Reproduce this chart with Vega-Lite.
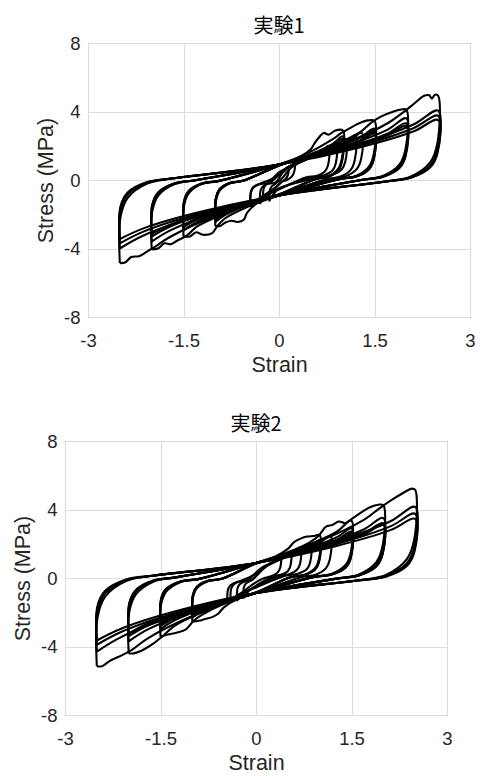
{
"$schema": "https://vega.github.io/schema/vega-lite/v6.json",
"background": "white",
"padding": {"left": 11, "top": 16, "right": 5, "bottom": 5},
"config": {
  "view": {"stroke": "#4d4d4d", "strokeWidth": 1},
  "font": "Liberation Sans",
  "axis": {"domain": false, "ticks": false, "grid": true, "gridColor": "#dcdcdc", "gridWidth": 1, "labelFlush": false, "labelOverlap": false, "labelFont": "Liberation Sans", "labelFontSize": 18.5, "labelColor": "#262626", "titleFont": "Liberation Sans", "titleFontSize": 21.5, "titleFontWeight": "normal", "titleColor": "#262626"},
  "axisX": {"labelPadding": 14, "titlePadding": 5},
  "axisY": {"labelPadding": 8, "titlePadding": 6},
  "title": {"font": "Noto Sans CJK JP", "fontSize": 20, "fontWeight": "normal", "color": "#000000", "offset": -3, "frame": "group", "anchor": "middle"}
},
"datasets": {
"t": [
{"k":"a1","x":-2.5,"y":-4.85},{"k":"a1","x":-2.49,"y":-2.18},{"k":"a1","x":-2.377,"y":-1.04},{"k":"a1","x":-2.07,"y":-0.21},{"k":"a1","x":-1.65,"y":0.1},{"k":"a1","x":0,"y":0.9},{"k":"a1","x":1.0,"y":2.1},{"k":"a1","x":1.7,"y":3.3},{"k":"a1","x":1.95,"y":3.95},{"k":"a1","x":2.12,"y":4.45},{"k":"a1","x":2.28,"y":4.92},{"k":"a1","x":2.36,"y":4.95},{"k":"a1","x":2.4,"y":4.75},{"k":"a1","x":2.45,"y":4.98},{"k":"a1","x":2.5,"y":4.92},{"k":"a1","x":2.49,"y":2.2},{"k":"a1","x":2.377,"y":1.05},{"k":"a1","x":2.07,"y":0.21},{"k":"a1","x":1.65,"y":-0.1},{"k":"a1","x":0,"y":-0.9},{"k":"a1","x":-1.0,"y":-2.1},{"k":"a1","x":-1.7,"y":-3.3},{"k":"a1","x":-1.95,"y":-3.9},{"k":"a1","x":-2.08,"y":-4.2},{"k":"a1","x":-2.2,"y":-4.45},{"k":"a1","x":-2.32,"y":-4.5},{"k":"a1","x":-2.42,"y":-4.82},{"k":"a1","x":-2.5,"y":-4.85},
{"k":"a2","x":-2.5,"y":-4.0},{"k":"a2","x":-2.49,"y":-1.8},{"k":"a2","x":-2.377,"y":-0.85},{"k":"a2","x":-2.07,"y":-0.155},{"k":"a2","x":-1.65,"y":0.1},{"k":"a2","x":0,"y":0.9},{"k":"a2","x":1.25,"y":2.1},{"k":"a2","x":2.12,"y":3.26},{"k":"a2","x":2.5,"y":4.05},{"k":"a2","x":2.49,"y":1.82},{"k":"a2","x":2.377,"y":0.86},{"k":"a2","x":2.07,"y":0.16},{"k":"a2","x":1.65,"y":-0.1},{"k":"a2","x":0,"y":-0.9},{"k":"a2","x":-1.25,"y":-2.08},{"k":"a2","x":-2.12,"y":-3.23},{"k":"a2","x":-2.5,"y":-4.0},
{"k":"a3","x":-2.5,"y":-3.7},{"k":"a3","x":-2.49,"y":-1.67},{"k":"a3","x":-2.377,"y":-0.78},{"k":"a3","x":-2.07,"y":-0.14},{"k":"a3","x":-1.65,"y":0.1},{"k":"a3","x":0,"y":0.9},{"k":"a3","x":1.25,"y":1.98},{"k":"a3","x":2.12,"y":3.04},{"k":"a3","x":2.5,"y":3.75},{"k":"a3","x":2.49,"y":1.69},{"k":"a3","x":2.377,"y":0.79},{"k":"a3","x":2.07,"y":0.14},{"k":"a3","x":1.65,"y":-0.1},{"k":"a3","x":0,"y":-0.9},{"k":"a3","x":-1.25,"y":-1.96},{"k":"a3","x":-2.12,"y":-3.0},{"k":"a3","x":-2.5,"y":-3.7},
{"k":"a4","x":-2.5,"y":-3.45},{"k":"a4","x":-2.49,"y":-1.55},{"k":"a4","x":-2.377,"y":-0.73},{"k":"a4","x":-2.07,"y":-0.12},{"k":"a4","x":-1.65,"y":0.1},{"k":"a4","x":0,"y":0.9},{"k":"a4","x":1.25,"y":1.89},{"k":"a4","x":2.12,"y":2.85},{"k":"a4","x":2.5,"y":3.5},{"k":"a4","x":2.49,"y":1.58},{"k":"a4","x":2.377,"y":0.74},{"k":"a4","x":2.07,"y":0.13},{"k":"a4","x":1.65,"y":-0.1},{"k":"a4","x":0,"y":-0.9},{"k":"a4","x":-1.25,"y":-1.87},{"k":"a4","x":-2.12,"y":-2.81},{"k":"a4","x":-2.5,"y":-3.45},
{"k":"b1","x":-2.0,"y":-4.05},{"k":"b1","x":-1.99,"y":-1.82},{"k":"b1","x":-1.896,"y":-0.91},{"k":"b1","x":-1.64,"y":-0.24},{"k":"b1","x":-1.29,"y":0.0},{"k":"b1","x":0,"y":0.9},{"k":"b1","x":0.75,"y":1.87},{"k":"b1","x":1.28,"y":2.81},{"k":"b1","x":1.45,"y":3.35},{"k":"b1","x":1.6,"y":3.7},{"k":"b1","x":1.8,"y":4.0},{"k":"b1","x":1.92,"y":4.12},{"k":"b1","x":2.0,"y":4.1},{"k":"b1","x":1.99,"y":1.85},{"k":"b1","x":1.896,"y":0.92},{"k":"b1","x":1.64,"y":0.25},{"k":"b1","x":1.29,"y":0.0},{"k":"b1","x":0,"y":-0.9},{"k":"b1","x":-0.75,"y":-1.81},{"k":"b1","x":-1.28,"y":-2.7},{"k":"b1","x":-1.45,"y":-3.25},{"k":"b1","x":-1.6,"y":-3.55},{"k":"b1","x":-1.7,"y":-3.75},{"k":"b1","x":-1.8,"y":-3.7},{"k":"b1","x":-1.9,"y":-4.0},{"k":"b1","x":-2.0,"y":-4.05},
{"k":"b2","x":-2.0,"y":-3.6},{"k":"b2","x":-1.99,"y":-1.62},{"k":"b2","x":-1.896,"y":-0.81},{"k":"b2","x":-1.64,"y":-0.22},{"k":"b2","x":-1.29,"y":0.0},{"k":"b2","x":0,"y":0.9},{"k":"b2","x":1.0,"y":1.93},{"k":"b2","x":1.7,"y":2.93},{"k":"b2","x":2.0,"y":3.6},{"k":"b2","x":1.99,"y":1.62},{"k":"b2","x":1.896,"y":0.81},{"k":"b2","x":1.64,"y":0.22},{"k":"b2","x":1.29,"y":0.0},{"k":"b2","x":0,"y":-0.9},{"k":"b2","x":-1.0,"y":-1.93},{"k":"b2","x":-1.7,"y":-2.93},{"k":"b2","x":-2.0,"y":-3.6},
{"k":"b3","x":-2.0,"y":-3.3},{"k":"b3","x":-1.99,"y":-1.49},{"k":"b3","x":-1.896,"y":-0.74},{"k":"b3","x":-1.64,"y":-0.2},{"k":"b3","x":-1.29,"y":0.0},{"k":"b3","x":0,"y":0.9},{"k":"b3","x":1.0,"y":1.81},{"k":"b3","x":1.7,"y":2.7},{"k":"b3","x":2.0,"y":3.3},{"k":"b3","x":1.99,"y":1.49},{"k":"b3","x":1.896,"y":0.74},{"k":"b3","x":1.64,"y":0.2},{"k":"b3","x":1.29,"y":0.0},{"k":"b3","x":0,"y":-0.9},{"k":"b3","x":-1.0,"y":-1.81},{"k":"b3","x":-1.7,"y":-2.7},{"k":"b3","x":-2.0,"y":-3.3},
{"k":"b4","x":-2.0,"y":-3.15},{"k":"b4","x":-1.99,"y":-1.42},{"k":"b4","x":-1.896,"y":-0.71},{"k":"b4","x":-1.64,"y":-0.19},{"k":"b4","x":-1.29,"y":0.0},{"k":"b4","x":0,"y":0.9},{"k":"b4","x":1.0,"y":1.76},{"k":"b4","x":1.7,"y":2.59},{"k":"b4","x":2.0,"y":3.15},{"k":"b4","x":1.99,"y":1.42},{"k":"b4","x":1.896,"y":0.71},{"k":"b4","x":1.64,"y":0.19},{"k":"b4","x":1.29,"y":0.0},{"k":"b4","x":0,"y":-0.9},{"k":"b4","x":-1.0,"y":-1.76},{"k":"b4","x":-1.7,"y":-2.59},{"k":"b4","x":-2.0,"y":-3.15},
{"k":"c1","x":-1.5,"y":-3.3},{"k":"c1","x":-1.49,"y":-1.49},{"k":"c1","x":-1.416,"y":-0.77},{"k":"c1","x":-1.215,"y":-0.24},{"k":"c1","x":-0.94,"y":-0.05},{"k":"c1","x":0,"y":0.9},{"k":"c1","x":0.5,"y":1.66},{"k":"c1","x":0.85,"y":2.4},{"k":"c1","x":0.98,"y":2.75},{"k":"c1","x":1.1,"y":3.0},{"k":"c1","x":1.25,"y":3.3},{"k":"c1","x":1.4,"y":3.48},{"k":"c1","x":1.5,"y":3.45},{"k":"c1","x":1.49,"y":1.55},{"k":"c1","x":1.416,"y":0.8},{"k":"c1","x":1.215,"y":0.25},{"k":"c1","x":0.94,"y":0.05},{"k":"c1","x":0,"y":-0.9},{"k":"c1","x":-0.5,"y":-1.58},{"k":"c1","x":-0.85,"y":-2.25},{"k":"c1","x":-0.98,"y":-2.75},{"k":"c1","x":-1.05,"y":-3.1},{"k":"c1","x":-1.2,"y":-3.2},{"k":"c1","x":-1.3,"y":-3.05},{"k":"c1","x":-1.4,"y":-3.3},{"k":"c1","x":-1.5,"y":-3.3},
{"k":"c2","x":-1.5,"y":-2.95},{"k":"c2","x":-1.49,"y":-1.33},{"k":"c2","x":-1.416,"y":-0.69},{"k":"c2","x":-1.215,"y":-0.22},{"k":"c2","x":-0.94,"y":-0.05},{"k":"c2","x":0,"y":0.9},{"k":"c2","x":0.75,"y":1.7},{"k":"c2","x":1.28,"y":2.48},{"k":"c2","x":1.5,"y":3.0},{"k":"c2","x":1.49,"y":1.35},{"k":"c2","x":1.416,"y":0.7},{"k":"c2","x":1.215,"y":0.22},{"k":"c2","x":0.94,"y":0.05},{"k":"c2","x":0,"y":-0.9},{"k":"c2","x":-0.75,"y":-1.68},{"k":"c2","x":-1.28,"y":-2.44},{"k":"c2","x":-1.5,"y":-2.95},
{"k":"c3","x":-1.5,"y":-2.75},{"k":"c3","x":-1.49,"y":-1.24},{"k":"c3","x":-1.416,"y":-0.65},{"k":"c3","x":-1.215,"y":-0.21},{"k":"c3","x":-0.94,"y":-0.05},{"k":"c3","x":0,"y":0.9},{"k":"c3","x":0.75,"y":1.62},{"k":"c3","x":1.28,"y":2.33},{"k":"c3","x":1.5,"y":2.8},{"k":"c3","x":1.49,"y":1.26},{"k":"c3","x":1.416,"y":0.66},{"k":"c3","x":1.215,"y":0.21},{"k":"c3","x":0.94,"y":0.05},{"k":"c3","x":0,"y":-0.9},{"k":"c3","x":-0.75,"y":-1.6},{"k":"c3","x":-1.28,"y":-2.29},{"k":"c3","x":-1.5,"y":-2.75},
{"k":"c4","x":-1.5,"y":-2.65},{"k":"c4","x":-1.49,"y":-1.19},{"k":"c4","x":-1.416,"y":-0.62},{"k":"c4","x":-1.215,"y":-0.2},{"k":"c4","x":-0.94,"y":-0.05},{"k":"c4","x":0,"y":0.9},{"k":"c4","x":0.75,"y":1.58},{"k":"c4","x":1.28,"y":2.25},{"k":"c4","x":1.5,"y":2.7},{"k":"c4","x":1.49,"y":1.22},{"k":"c4","x":1.416,"y":0.63},{"k":"c4","x":1.215,"y":0.2},{"k":"c4","x":0.94,"y":0.05},{"k":"c4","x":0,"y":-0.9},{"k":"c4","x":-0.75,"y":-1.57},{"k":"c4","x":-1.28,"y":-2.21},{"k":"c4","x":-1.5,"y":-2.65},
{"k":"d1","x":-1.0,"y":-2.7},{"k":"d1","x":-0.99,"y":-1.22},{"k":"d1","x":-0.934,"y":-0.63},{"k":"d1","x":-0.78,"y":-0.21},{"k":"d1","x":-0.57,"y":-0.05},{"k":"d1","x":0,"y":0.85},{"k":"d1","x":0.3,"y":1.3},{"k":"d1","x":0.5,"y":1.8},{"k":"d1","x":0.55,"y":2.1},{"k":"d1","x":0.62,"y":2.45},{"k":"d1","x":0.7,"y":2.75},{"k":"d1","x":0.78,"y":2.65},{"k":"d1","x":0.88,"y":2.88},{"k":"d1","x":1.0,"y":2.9},{"k":"d1","x":0.99,"y":1.3},{"k":"d1","x":0.934,"y":0.68},{"k":"d1","x":0.78,"y":0.22},{"k":"d1","x":0.57,"y":0.05},{"k":"d1","x":0,"y":-0.85},{"k":"d1","x":-0.3,"y":-1.25},{"k":"d1","x":-0.5,"y":-1.9},{"k":"d1","x":-0.55,"y":-2.3},{"k":"d1","x":-0.65,"y":-2.45},{"k":"d1","x":-0.75,"y":-2.38},{"k":"d1","x":-0.85,"y":-2.5},{"k":"d1","x":-0.92,"y":-2.68},{"k":"d1","x":-1.0,"y":-2.7},
{"k":"d2","x":-1.0,"y":-2.45},{"k":"d2","x":-0.99,"y":-1.1},{"k":"d2","x":-0.934,"y":-0.58},{"k":"d2","x":-0.78,"y":-0.19},{"k":"d2","x":-0.57,"y":-0.05},{"k":"d2","x":0,"y":0.85},{"k":"d2","x":0.5,"y":1.5},{"k":"d2","x":0.85,"y":2.13},{"k":"d2","x":1.0,"y":2.55},{"k":"d2","x":0.99,"y":1.15},{"k":"d2","x":0.934,"y":0.6},{"k":"d2","x":0.78,"y":0.2},{"k":"d2","x":0.57,"y":0.05},{"k":"d2","x":0,"y":-0.85},{"k":"d2","x":-0.5,"y":-1.46},{"k":"d2","x":-0.85,"y":-2.05},{"k":"d2","x":-1.0,"y":-2.45},
{"k":"d3","x":-1.0,"y":-2.3},{"k":"d3","x":-0.99,"y":-1.04},{"k":"d3","x":-0.934,"y":-0.54},{"k":"d3","x":-0.78,"y":-0.18},{"k":"d3","x":-0.57,"y":-0.05},{"k":"d3","x":0,"y":0.85},{"k":"d3","x":0.5,"y":1.44},{"k":"d3","x":0.85,"y":2.01},{"k":"d3","x":1.0,"y":2.4},{"k":"d3","x":0.99,"y":1.08},{"k":"d3","x":0.934,"y":0.57},{"k":"d3","x":0.78,"y":0.19},{"k":"d3","x":0.57,"y":0.05},{"k":"d3","x":0,"y":-0.85},{"k":"d3","x":-0.5,"y":-1.4},{"k":"d3","x":-0.85,"y":-1.94},{"k":"d3","x":-1.0,"y":-2.3},
{"k":"e1","x":-1.0,"y":-2.35},{"k":"e1","x":-0.99,"y":-1.06},{"k":"e1","x":-0.934,"y":-0.56},{"k":"e1","x":-0.78,"y":-0.19},{"k":"e1","x":-0.57,"y":-0.05},{"k":"e1","x":0,"y":0.85},{"k":"e1","x":0.6,"y":1.52},{"k":"e1","x":1.02,"y":2.16},{"k":"e1","x":1.2,"y":2.6},{"k":"e1","x":1.19,"y":1.17},{"k":"e1","x":1.13,"y":0.61},{"k":"e1","x":0.965,"y":0.2},{"k":"e1","x":0.74,"y":0.05},{"k":"e1","x":0,"y":-0.85},{"k":"e1","x":-0.5,"y":-1.42},{"k":"e1","x":-0.85,"y":-1.98},{"k":"e1","x":-1.0,"y":-2.35},
{"k":"e2","x":-1.0,"y":-2.3},{"k":"e2","x":-0.99,"y":-1.04},{"k":"e2","x":-0.934,"y":-0.54},{"k":"e2","x":-0.78,"y":-0.18},{"k":"e2","x":-0.57,"y":-0.05},{"k":"e2","x":0,"y":0.85},{"k":"e2","x":0.65,"y":1.57},{"k":"e2","x":1.1,"y":2.28},{"k":"e2","x":1.3,"y":2.75},{"k":"e2","x":1.29,"y":1.24},{"k":"e2","x":1.223,"y":0.65},{"k":"e2","x":1.04,"y":0.21},{"k":"e2","x":0.79,"y":0.05},{"k":"e2","x":0,"y":-0.85},{"k":"e2","x":-0.5,"y":-1.4},{"k":"e2","x":-0.85,"y":-1.94},{"k":"e2","x":-1.0,"y":-2.3},
{"k":"m1","x":-0.45,"y":-1.55},{"k":"m1","x":-0.44,"y":-0.7},{"k":"m1","x":-0.4,"y":-0.43},{"k":"m1","x":-0.29,"y":-0.24},{"k":"m1","x":-0.15,"y":-0.18},{"k":"m1","x":0.1,"y":0.65},{"k":"m1","x":0.39,"y":1.12},{"k":"m1","x":0.66,"y":1.64},{"k":"m1","x":0.78,"y":2.0},{"k":"m1","x":0.77,"y":0.86},{"k":"m1","x":0.72,"y":0.5},{"k":"m1","x":0.6,"y":0.25},{"k":"m1","x":0.42,"y":0.15},{"k":"m1","x":0,"y":-0.55},{"k":"m1","x":-0.22,"y":-0.93},{"k":"m1","x":-0.38,"y":-1.3},{"k":"m1","x":-0.45,"y":-1.55},
{"k":"m2","x":-0.3,"y":-1.4},{"k":"m2","x":-0.29,"y":-0.63},{"k":"m2","x":-0.26,"y":-0.4},{"k":"m2","x":-0.18,"y":-0.22},{"k":"m2","x":-0.06,"y":-0.15},{"k":"m2","x":0.12,"y":0.7},{"k":"m2","x":0.45,"y":1.25},{"k":"m2","x":0.76,"y":1.8},{"k":"m2","x":0.9,"y":2.2},{"k":"m2","x":0.89,"y":0.95},{"k":"m2","x":0.84,"y":0.55},{"k":"m2","x":0.7,"y":0.27},{"k":"m2","x":0.5,"y":0.15},{"k":"m2","x":0,"y":-0.5},{"k":"m2","x":-0.15,"y":-0.8},{"k":"m2","x":-0.26,"y":-1.15},{"k":"m2","x":-0.3,"y":-1.4},
{"k":"m3","x":-0.15,"y":-1.25},{"k":"m3","x":-0.14,"y":-0.56},{"k":"m3","x":-0.11,"y":-0.36},{"k":"m3","x":-0.05,"y":-0.2},{"k":"m3","x":0.05,"y":0.1},{"k":"m3","x":0.2,"y":0.75},{"k":"m3","x":0.52,"y":1.35},{"k":"m3","x":0.89,"y":1.95},{"k":"m3","x":1.05,"y":2.4},{"k":"m3","x":1.04,"y":1.05},{"k":"m3","x":0.98,"y":0.6},{"k":"m3","x":0.82,"y":0.28},{"k":"m3","x":0.6,"y":0.12},{"k":"m3","x":0,"y":-0.5},{"k":"m3","x":-0.07,"y":-0.75},{"k":"m3","x":-0.13,"y":-1.05},{"k":"m3","x":-0.15,"y":-1.25},
{"k":"s1","x":-0.45,"y":-1.5},{"k":"s1","x":-0.44,"y":-0.68},{"k":"s1","x":-0.4,"y":-0.4},{"k":"s1","x":-0.29,"y":-0.2},{"k":"s1","x":-0.12,"y":0.05},{"k":"s1","x":0,"y":0.45},{"k":"s1","x":0.12,"y":0.7},{"k":"s1","x":0.21,"y":0.92},{"k":"s1","x":0.25,"y":1.1},{"k":"s1","x":0.24,"y":0.5},{"k":"s1","x":0.2,"y":0.2},{"k":"s1","x":0.12,"y":0.0},{"k":"s1","x":0.04,"y":-0.1},{"k":"s1","x":-0.05,"y":-0.45},{"k":"s1","x":-0.22,"y":-0.85},{"k":"s1","x":-0.38,"y":-1.25},{"k":"s1","x":-0.45,"y":-1.5},
{"k":"s2","x":-0.25,"y":-1.1},{"k":"s2","x":-0.24,"y":-0.5},{"k":"s2","x":-0.2,"y":-0.25},{"k":"s2","x":-0.12,"y":-0.05},{"k":"s2","x":0,"y":0.3},{"k":"s2","x":0.08,"y":0.5},{"k":"s2","x":0.15,"y":0.75},{"k":"s2","x":0.14,"y":0.3},{"k":"s2","x":0.1,"y":0.05},{"k":"s2","x":0.03,"y":-0.15},{"k":"s2","x":-0.08,"y":-0.5},{"k":"s2","x":-0.2,"y":-0.85},{"k":"s2","x":-0.25,"y":-1.1}
],
"b": [
{"k":"A1","x":-2.5,"y":-5.15},{"k":"A1","x":-2.49,"y":-2.32},{"k":"A1","x":-2.369,"y":-1.09},{"k":"A1","x":-2.04,"y":-0.18},{"k":"A1","x":-1.59,"y":0.15},{"k":"A1","x":0,"y":0.88},{"k":"A1","x":1.0,"y":2.16},{"k":"A1","x":1.7,"y":3.41},{"k":"A1","x":1.95,"y":4.1},{"k":"A1","x":2.15,"y":4.6},{"k":"A1","x":2.35,"y":5.05},{"k":"A1","x":2.45,"y":5.22},{"k":"A1","x":2.5,"y":5.15},{"k":"A1","x":2.49,"y":2.34},{"k":"A1","x":2.369,"y":1.1},{"k":"A1","x":2.04,"y":0.18},{"k":"A1","x":1.59,"y":-0.15},{"k":"A1","x":0,"y":-0.88},{"k":"A1","x":-1.0,"y":-2.22},{"k":"A1","x":-1.7,"y":-3.52},{"k":"A1","x":-1.95,"y":-4.2},{"k":"A1","x":-2.1,"y":-4.5},{"k":"A1","x":-2.3,"y":-4.85},{"k":"A1","x":-2.42,"y":-5.15},{"k":"A1","x":-2.5,"y":-5.15},
{"k":"A2","x":-2.5,"y":-4.3},{"k":"A2","x":-2.49,"y":-1.94},{"k":"A2","x":-2.369,"y":-0.89},{"k":"A2","x":-2.04,"y":-0.13},{"k":"A2","x":-1.59,"y":0.15},{"k":"A2","x":0,"y":0.88},{"k":"A2","x":1.25,"y":2.12},{"k":"A2","x":2.12,"y":3.33},{"k":"A2","x":2.5,"y":4.15},{"k":"A2","x":2.49,"y":1.87},{"k":"A2","x":2.369,"y":0.86},{"k":"A2","x":2.04,"y":0.12},{"k":"A2","x":1.59,"y":-0.15},{"k":"A2","x":0,"y":-0.88},{"k":"A2","x":-1.25,"y":-2.18},{"k":"A2","x":-2.12,"y":-3.45},{"k":"A2","x":-2.5,"y":-4.3},
{"k":"A3","x":-2.5,"y":-3.9},{"k":"A3","x":-2.49,"y":-1.76},{"k":"A3","x":-2.369,"y":-0.8},{"k":"A3","x":-2.04,"y":-0.11},{"k":"A3","x":-1.59,"y":0.15},{"k":"A3","x":0,"y":0.88},{"k":"A3","x":1.25,"y":1.97},{"k":"A3","x":2.12,"y":3.03},{"k":"A3","x":2.5,"y":3.75},{"k":"A3","x":2.49,"y":1.69},{"k":"A3","x":2.369,"y":0.77},{"k":"A3","x":2.04,"y":0.1},{"k":"A3","x":1.59,"y":-0.15},{"k":"A3","x":0,"y":-0.88},{"k":"A3","x":-1.25,"y":-2.03},{"k":"A3","x":-2.12,"y":-3.15},{"k":"A3","x":-2.5,"y":-3.9},
{"k":"A4","x":-2.5,"y":-3.65},{"k":"A4","x":-2.49,"y":-1.64},{"k":"A4","x":-2.369,"y":-0.75},{"k":"A4","x":-2.04,"y":-0.09},{"k":"A4","x":-1.59,"y":0.15},{"k":"A4","x":0,"y":0.88},{"k":"A4","x":1.25,"y":1.86},{"k":"A4","x":2.12,"y":2.81},{"k":"A4","x":2.5,"y":3.45},{"k":"A4","x":2.49,"y":1.55},{"k":"A4","x":2.369,"y":0.7},{"k":"A4","x":2.04,"y":0.08},{"k":"A4","x":1.59,"y":-0.15},{"k":"A4","x":0,"y":-0.88},{"k":"A4","x":-1.25,"y":-1.93},{"k":"A4","x":-2.12,"y":-2.96},{"k":"A4","x":-2.5,"y":-3.65},
{"k":"B1","x":-2.0,"y":-4.4},{"k":"B1","x":-1.99,"y":-1.98},{"k":"B1","x":-1.89,"y":-0.97},{"k":"B1","x":-1.615,"y":-0.22},{"k":"B1","x":-1.24,"y":0.05},{"k":"B1","x":0,"y":0.88},{"k":"B1","x":0.75,"y":1.82},{"k":"B1","x":1.28,"y":2.73},{"k":"B1","x":1.45,"y":3.3},{"k":"B1","x":1.62,"y":3.75},{"k":"B1","x":1.8,"y":4.15},{"k":"B1","x":1.92,"y":4.28},{"k":"B1","x":2.0,"y":4.25},{"k":"B1","x":1.99,"y":1.91},{"k":"B1","x":1.89,"y":0.93},{"k":"B1","x":1.615,"y":0.21},{"k":"B1","x":1.24,"y":-0.05},{"k":"B1","x":0,"y":-0.88},{"k":"B1","x":-0.75,"y":-1.85},{"k":"B1","x":-1.28,"y":-2.79},{"k":"B1","x":-1.45,"y":-3.35},{"k":"B1","x":-1.62,"y":-3.85},{"k":"B1","x":-1.8,"y":-4.25},{"k":"B1","x":-1.92,"y":-4.4},{"k":"B1","x":-2.0,"y":-4.4},
{"k":"B2","x":-2.0,"y":-3.7},{"k":"B2","x":-1.99,"y":-1.67},{"k":"B2","x":-1.89,"y":-0.81},{"k":"B2","x":-1.615,"y":-0.18},{"k":"B2","x":-1.24,"y":0.05},{"k":"B2","x":0,"y":0.88},{"k":"B2","x":1.0,"y":1.88},{"k":"B2","x":1.7,"y":2.85},{"k":"B2","x":2.0,"y":3.5},{"k":"B2","x":1.99,"y":1.58},{"k":"B2","x":1.89,"y":0.76},{"k":"B2","x":1.615,"y":0.17},{"k":"B2","x":1.24,"y":-0.05},{"k":"B2","x":0,"y":-0.88},{"k":"B2","x":-1.0,"y":-1.95},{"k":"B2","x":-1.7,"y":-3.0},{"k":"B2","x":-2.0,"y":-3.7},
{"k":"B3","x":-2.0,"y":-3.4},{"k":"B3","x":-1.99,"y":-1.53},{"k":"B3","x":-1.89,"y":-0.74},{"k":"B3","x":-1.615,"y":-0.16},{"k":"B3","x":-1.24,"y":0.05},{"k":"B3","x":0,"y":0.88},{"k":"B3","x":1.0,"y":1.76},{"k":"B3","x":1.7,"y":2.62},{"k":"B3","x":2.0,"y":3.2},{"k":"B3","x":1.99,"y":1.44},{"k":"B3","x":1.89,"y":0.7},{"k":"B3","x":1.615,"y":0.15},{"k":"B3","x":1.24,"y":-0.05},{"k":"B3","x":0,"y":-0.88},{"k":"B3","x":-1.0,"y":-1.84},{"k":"B3","x":-1.7,"y":-2.77},{"k":"B3","x":-2.0,"y":-3.4},
{"k":"B4","x":-2.0,"y":-3.25},{"k":"B4","x":-1.99,"y":-1.46},{"k":"B4","x":-1.89,"y":-0.71},{"k":"B4","x":-1.615,"y":-0.15},{"k":"B4","x":-1.24,"y":0.05},{"k":"B4","x":0,"y":0.88},{"k":"B4","x":1.0,"y":1.72},{"k":"B4","x":1.7,"y":2.55},{"k":"B4","x":2.0,"y":3.1},{"k":"B4","x":1.99,"y":1.4},{"k":"B4","x":1.89,"y":0.67},{"k":"B4","x":1.615,"y":0.14},{"k":"B4","x":1.24,"y":-0.05},{"k":"B4","x":0,"y":-0.88},{"k":"B4","x":-1.0,"y":-1.78},{"k":"B4","x":-1.7,"y":-2.66},{"k":"B4","x":-2.0,"y":-3.25},
{"k":"C1","x":-1.5,"y":-3.43},{"k":"C1","x":-1.49,"y":-1.54},{"k":"C1","x":-1.41,"y":-0.8},{"k":"C1","x":-1.19,"y":-0.25},{"k":"C1","x":-0.89,"y":-0.05},{"k":"C1","x":0,"y":0.88},{"k":"C1","x":0.5,"y":1.5},{"k":"C1","x":0.85,"y":2.1},{"k":"C1","x":0.98,"y":2.45},{"k":"C1","x":1.1,"y":3.0},{"k":"C1","x":1.2,"y":3.1},{"k":"C1","x":1.3,"y":3.3},{"k":"C1","x":1.4,"y":3.2},{"k":"C1","x":1.5,"y":3.35},{"k":"C1","x":1.49,"y":1.51},{"k":"C1","x":1.41,"y":0.78},{"k":"C1","x":1.19,"y":0.25},{"k":"C1","x":0.89,"y":0.05},{"k":"C1","x":0,"y":-0.88},{"k":"C1","x":-0.5,"y":-1.5},{"k":"C1","x":-0.85,"y":-2.15},{"k":"C1","x":-0.98,"y":-2.5},{"k":"C1","x":-1.1,"y":-3.0},{"k":"C1","x":-1.25,"y":-3.2},{"k":"C1","x":-1.38,"y":-3.3},{"k":"C1","x":-1.5,"y":-3.43},
{"k":"C2","x":-1.5,"y":-3.0},{"k":"C2","x":-1.49,"y":-1.35},{"k":"C2","x":-1.41,"y":-0.7},{"k":"C2","x":-1.19,"y":-0.22},{"k":"C2","x":-0.89,"y":-0.05},{"k":"C2","x":0,"y":0.88},{"k":"C2","x":0.75,"y":1.65},{"k":"C2","x":1.28,"y":2.4},{"k":"C2","x":1.5,"y":2.9},{"k":"C2","x":1.49,"y":1.31},{"k":"C2","x":1.41,"y":0.68},{"k":"C2","x":1.19,"y":0.22},{"k":"C2","x":0.89,"y":0.05},{"k":"C2","x":0,"y":-0.88},{"k":"C2","x":-0.75,"y":-1.69},{"k":"C2","x":-1.28,"y":-2.47},{"k":"C2","x":-1.5,"y":-3.0},
{"k":"C3","x":-1.5,"y":-2.8},{"k":"C3","x":-1.49,"y":-1.26},{"k":"C3","x":-1.41,"y":-0.66},{"k":"C3","x":-1.19,"y":-0.21},{"k":"C3","x":-0.89,"y":-0.05},{"k":"C3","x":0,"y":0.88},{"k":"C3","x":0.75,"y":1.57},{"k":"C3","x":1.28,"y":2.25},{"k":"C3","x":1.5,"y":2.7},{"k":"C3","x":1.49,"y":1.22},{"k":"C3","x":1.41,"y":0.63},{"k":"C3","x":1.19,"y":0.21},{"k":"C3","x":0.89,"y":0.05},{"k":"C3","x":0,"y":-0.88},{"k":"C3","x":-0.75,"y":-1.61},{"k":"C3","x":-1.28,"y":-2.32},{"k":"C3","x":-1.5,"y":-2.8},
{"k":"C4","x":-1.5,"y":-2.65},{"k":"C4","x":-1.49,"y":-1.19},{"k":"C4","x":-1.41,"y":-0.62},{"k":"C4","x":-1.19,"y":-0.2},{"k":"C4","x":-0.89,"y":-0.05},{"k":"C4","x":0,"y":0.88},{"k":"C4","x":0.75,"y":1.53},{"k":"C4","x":1.28,"y":2.17},{"k":"C4","x":1.5,"y":2.6},{"k":"C4","x":1.49,"y":1.17},{"k":"C4","x":1.41,"y":0.61},{"k":"C4","x":1.19,"y":0.2},{"k":"C4","x":0.89,"y":0.05},{"k":"C4","x":0,"y":-0.88},{"k":"C4","x":-0.75,"y":-1.55},{"k":"C4","x":-1.28,"y":-2.21},{"k":"C4","x":-1.5,"y":-2.65},
{"k":"D1","x":-1.0,"y":-2.55},{"k":"D1","x":-0.99,"y":-1.15},{"k":"D1","x":-0.93,"y":-0.6},{"k":"D1","x":-0.765,"y":-0.2},{"k":"D1","x":-0.54,"y":-0.05},{"k":"D1","x":0,"y":0.85},{"k":"D1","x":0.3,"y":1.25},{"k":"D1","x":0.5,"y":1.7},{"k":"D1","x":0.6,"y":2.1},{"k":"D1","x":0.7,"y":2.3},{"k":"D1","x":0.8,"y":2.42},{"k":"D1","x":0.9,"y":2.45},{"k":"D1","x":1.0,"y":2.5},{"k":"D1","x":0.99,"y":1.13},{"k":"D1","x":0.93,"y":0.59},{"k":"D1","x":0.765,"y":0.19},{"k":"D1","x":0.54,"y":0.05},{"k":"D1","x":0,"y":-0.85},{"k":"D1","x":-0.3,"y":-1.25},{"k":"D1","x":-0.5,"y":-1.7},{"k":"D1","x":-0.6,"y":-2.1},{"k":"D1","x":-0.7,"y":-2.3},{"k":"D1","x":-0.8,"y":-2.4},{"k":"D1","x":-0.9,"y":-2.5},{"k":"D1","x":-1.0,"y":-2.55},
{"k":"D2","x":-1.0,"y":-2.3},{"k":"D2","x":-0.99,"y":-1.04},{"k":"D2","x":-0.93,"y":-0.54},{"k":"D2","x":-0.765,"y":-0.18},{"k":"D2","x":-0.54,"y":-0.05},{"k":"D2","x":0,"y":0.85},{"k":"D2","x":0.5,"y":1.36},{"k":"D2","x":0.85,"y":1.86},{"k":"D2","x":1.0,"y":2.2},{"k":"D2","x":0.99,"y":0.99},{"k":"D2","x":0.93,"y":0.52},{"k":"D2","x":0.765,"y":0.18},{"k":"D2","x":0.54,"y":0.05},{"k":"D2","x":0,"y":-0.85},{"k":"D2","x":-0.5,"y":-1.4},{"k":"D2","x":-0.85,"y":-1.94},{"k":"D2","x":-1.0,"y":-2.3},
{"k":"D3","x":-1.0,"y":-2.15},{"k":"D3","x":-0.99,"y":-0.97},{"k":"D3","x":-0.93,"y":-0.51},{"k":"D3","x":-0.765,"y":-0.17},{"k":"D3","x":-0.54,"y":-0.05},{"k":"D3","x":0,"y":0.85},{"k":"D3","x":0.5,"y":1.31},{"k":"D3","x":0.85,"y":1.75},{"k":"D3","x":1.0,"y":2.05},{"k":"D3","x":0.99,"y":0.92},{"k":"D3","x":0.93,"y":0.49},{"k":"D3","x":0.765,"y":0.17},{"k":"D3","x":0.54,"y":0.05},{"k":"D3","x":0,"y":-0.85},{"k":"D3","x":-0.5,"y":-1.34},{"k":"D3","x":-0.85,"y":-1.83},{"k":"D3","x":-1.0,"y":-2.15},
{"k":"E1","x":-1.0,"y":-2.2},{"k":"E1","x":-0.99,"y":-0.99},{"k":"E1","x":-0.93,"y":-0.52},{"k":"E1","x":-0.765,"y":-0.18},{"k":"E1","x":-0.54,"y":-0.05},{"k":"E1","x":0,"y":0.85},{"k":"E1","x":0.585,"y":1.46},{"k":"E1","x":0.995,"y":2.05},{"k":"E1","x":1.17,"y":2.45},{"k":"E1","x":1.16,"y":1.1},{"k":"E1","x":1.1,"y":0.58},{"k":"E1","x":0.935,"y":0.19},{"k":"E1","x":0.71,"y":0.05},{"k":"E1","x":0,"y":-0.85},{"k":"E1","x":-0.5,"y":-1.36},{"k":"E1","x":-0.85,"y":-1.86},{"k":"E1","x":-1.0,"y":-2.2},
{"k":"M1","x":-0.45,"y":-1.5},{"k":"M1","x":-0.44,"y":-0.68},{"k":"M1","x":-0.4,"y":-0.42},{"k":"M1","x":-0.29,"y":-0.22},{"k":"M1","x":-0.15,"y":-0.15},{"k":"M1","x":0.1,"y":0.62},{"k":"M1","x":0.43,"y":1.15},{"k":"M1","x":0.73,"y":1.65},{"k":"M1","x":0.86,"y":2.0},{"k":"M1","x":0.85,"y":0.9},{"k":"M1","x":0.8,"y":0.52},{"k":"M1","x":0.66,"y":0.25},{"k":"M1","x":0.46,"y":0.13},{"k":"M1","x":0,"y":-0.55},{"k":"M1","x":-0.22,"y":-0.9},{"k":"M1","x":-0.38,"y":-1.25},{"k":"M1","x":-0.45,"y":-1.5},
{"k":"M2","x":-0.3,"y":-1.35},{"k":"M2","x":-0.29,"y":-0.6},{"k":"M2","x":-0.26,"y":-0.38},{"k":"M2","x":-0.18,"y":-0.2},{"k":"M2","x":-0.06,"y":-0.12},{"k":"M2","x":0.1,"y":0.6},{"k":"M2","x":0.35,"y":1.05},{"k":"M2","x":0.6,"y":1.5},{"k":"M2","x":0.7,"y":1.8},{"k":"M2","x":0.69,"y":0.8},{"k":"M2","x":0.64,"y":0.47},{"k":"M2","x":0.52,"y":0.22},{"k":"M2","x":0.36,"y":0.12},{"k":"M2","x":0,"y":-0.5},{"k":"M2","x":-0.15,"y":-0.8},{"k":"M2","x":-0.26,"y":-1.1},{"k":"M2","x":-0.3,"y":-1.35},
{"k":"M3","x":-0.2,"y":-1.2},{"k":"M3","x":-0.19,"y":-0.54},{"k":"M3","x":-0.16,"y":-0.33},{"k":"M3","x":-0.1,"y":-0.18},{"k":"M3","x":0.0,"y":0.1},{"k":"M3","x":0.15,"y":0.65},{"k":"M3","x":0.3,"y":0.95},{"k":"M3","x":0.47,"y":1.3},{"k":"M3","x":0.55,"y":1.55},{"k":"M3","x":0.54,"y":0.7},{"k":"M3","x":0.5,"y":0.4},{"k":"M3","x":0.4,"y":0.2},{"k":"M3","x":0.28,"y":0.1},{"k":"M3","x":0,"y":-0.45},{"k":"M3","x":-0.1,"y":-0.72},{"k":"M3","x":-0.17,"y":-1.0},{"k":"M3","x":-0.2,"y":-1.2},
{"k":"S1","x":-0.4,"y":-1.4},{"k":"S1","x":-0.39,"y":-0.63},{"k":"S1","x":-0.35,"y":-0.38},{"k":"S1","x":-0.25,"y":-0.18},{"k":"S1","x":-0.1,"y":0.05},{"k":"S1","x":0.1,"y":0.5},{"k":"S1","x":0.2,"y":0.8},{"k":"S1","x":0.33,"y":1.1},{"k":"S1","x":0.39,"y":1.3},{"k":"S1","x":0.38,"y":0.6},{"k":"S1","x":0.34,"y":0.33},{"k":"S1","x":0.25,"y":0.12},{"k":"S1","x":0.1,"y":-0.05},{"k":"S1","x":-0.1,"y":-0.5},{"k":"S1","x":-0.2,"y":-0.8},{"k":"S1","x":-0.33,"y":-1.1},{"k":"S1","x":-0.4,"y":-1.4}
]
},
"spacing": 37,
"vconcat": [
  {"spacing": 0, "hconcat": [
    {"width": 24, "height": 10, "data": {"values": []}, "mark": "point", "encoding": {}, "view": {"stroke": null}},
    {"title": "実験1", "width": 382, "height": 274, "data": {"name": "t"},
     "mark": {"type": "line", "interpolate": "catmull-rom", "color": "#000000", "strokeWidth": 2.1, "clip": true},
     "encoding": {
       "x": {"field": "x", "type": "quantitative", "scale": {"domain": [-3, 3], "nice": false, "zero": false}, "axis": {"values": [-3, -1.5, 0, 1.5, 3], "labelExpr": "'' + datum.value", "title": "Strain"}},
       "y": {"field": "y", "type": "quantitative", "scale": {"domain": [-8, 8], "nice": false, "zero": false}, "axis": {"values": [-8, -4, 0, 4, 8], "labelExpr": "'' + datum.value", "title": "Stress (MPa)"}},
       "detail": {"field": "k", "type": "nominal"},
       "order": {"value": null}
     }}
  ]},
  {"spacing": 0, "hconcat": [
    {"width": 1, "height": 10, "data": {"values": []}, "mark": "point", "encoding": {}, "view": {"stroke": null}},
    {"title": "実験2", "width": 382, "height": 274, "data": {"name": "b"},
     "mark": {"type": "line", "interpolate": "catmull-rom", "color": "#000000", "strokeWidth": 2.1, "clip": true},
     "encoding": {
       "x": {"field": "x", "type": "quantitative", "scale": {"domain": [-3, 3], "nice": false, "zero": false}, "axis": {"values": [-3, -1.5, 0, 1.5, 3], "labelExpr": "'' + datum.value", "title": "Strain"}},
       "y": {"field": "y", "type": "quantitative", "scale": {"domain": [-8, 8], "nice": false, "zero": false}, "axis": {"values": [-8, -4, 0, 4, 8], "labelExpr": "'' + datum.value", "title": "Stress (MPa)"}},
       "detail": {"field": "k", "type": "nominal"},
       "order": {"value": null}
     }}
  ]}
]
}
